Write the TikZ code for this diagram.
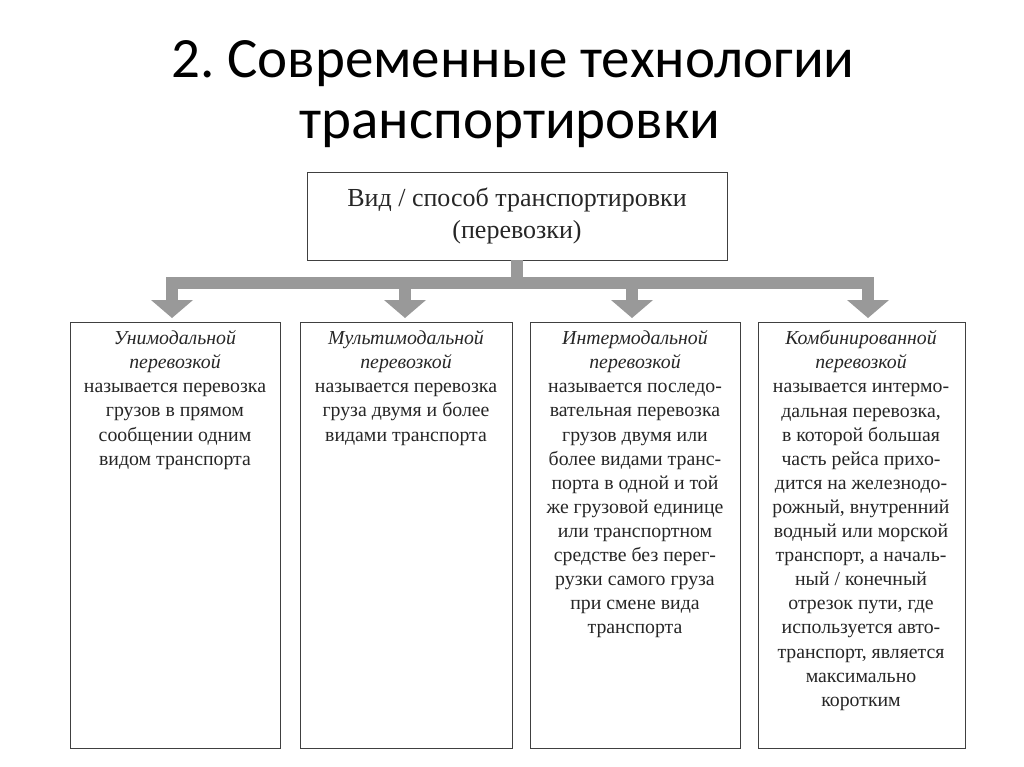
\documentclass[tikz,border=0pt]{standalone}
\usepackage{fontspec}
\setmainfont{Liberation Serif}
\newfontfamily\titlefont{Carlito}
\begin{document}
\frenchspacing
\begin{tikzpicture}[x=1pt,y=-1pt,
  box/.style={draw=black!75,line width=0.9pt},
  txt/.style={align=center,font=\fontsize{19.8}{24.1}\selectfont,text=black!85,anchor=north},
  gar/.style={fill=black!40,draw=none}]
\useasboundingbox (0,0) rectangle (1024,767);
\node[font=\titlefont\fontsize{57}{60}\selectfont] (t1) at (513,64) {2. Современные технологии};
\node[font=\titlefont\fontsize{57}{60}\selectfont] (t2) at (510,129) {транспортировки};
\draw[box] (307,172) rectangle (727,260);
\node[align=center,font=\fontsize{26}{32}\selectfont,text=black!85] (top) at (517,216) {Вид / способ транспортировки\\(перевозки)};
% gray connector
\fill[gar] (511,260) rectangle (523,288);
\fill[gar] (166,277) rectangle (874,289);
\foreach \x in {172,405,632,868}{
  \fill[gar] (\x-6,283) rectangle (\x+6,301);
  \fill[gar] (\x-21,300) -- (\x+21,300) -- (\x,318) -- cycle;
}
\draw[box] (70,322) rectangle (280,748);
\draw[box] (300,322) rectangle (512,748);
\draw[box] (530,322) rectangle (740,748);
\draw[box] (758,322) rectangle (965,748);
\node[txt] (b1) at (175,327) {\textit{Унимодальной}\\\textit{перевозкой}\\называется перевозка\\грузов в прямом\\сообщении одним\\видом транспорта};
\node[txt] (b2) at (406,327) {\textit{Мультимодальной}\\\textit{перевозкой}\\называется перевозка\\груза двумя и более\\видами транспорта};
\node[txt] (b3) at (635,327) {\textit{Интермодальной}\\\textit{перевозкой}\\называется последо-\\вательная перевозка\\грузов двумя или\\более видами транс-\\порта в одной и той\\же грузовой единице\\или транспортном\\средстве без перег-\\рузки самого груза\\при смене вида\\транспорта};
\node[txt] (b4) at (861,327) {\textit{Комбинированной}\\\textit{перевозкой}\\называется интермо-\\дальная перевозка,\\в которой большая\\часть рейса прихо-\\дится на железнодо-\\рожный, внутренний\\водный или морской\\транспорт, а началь-\\ный / конечный\\отрезок пути, где\\используется авто-\\транспорт, является\\максимально\\коротким};
\end{tikzpicture}
\end{document}
